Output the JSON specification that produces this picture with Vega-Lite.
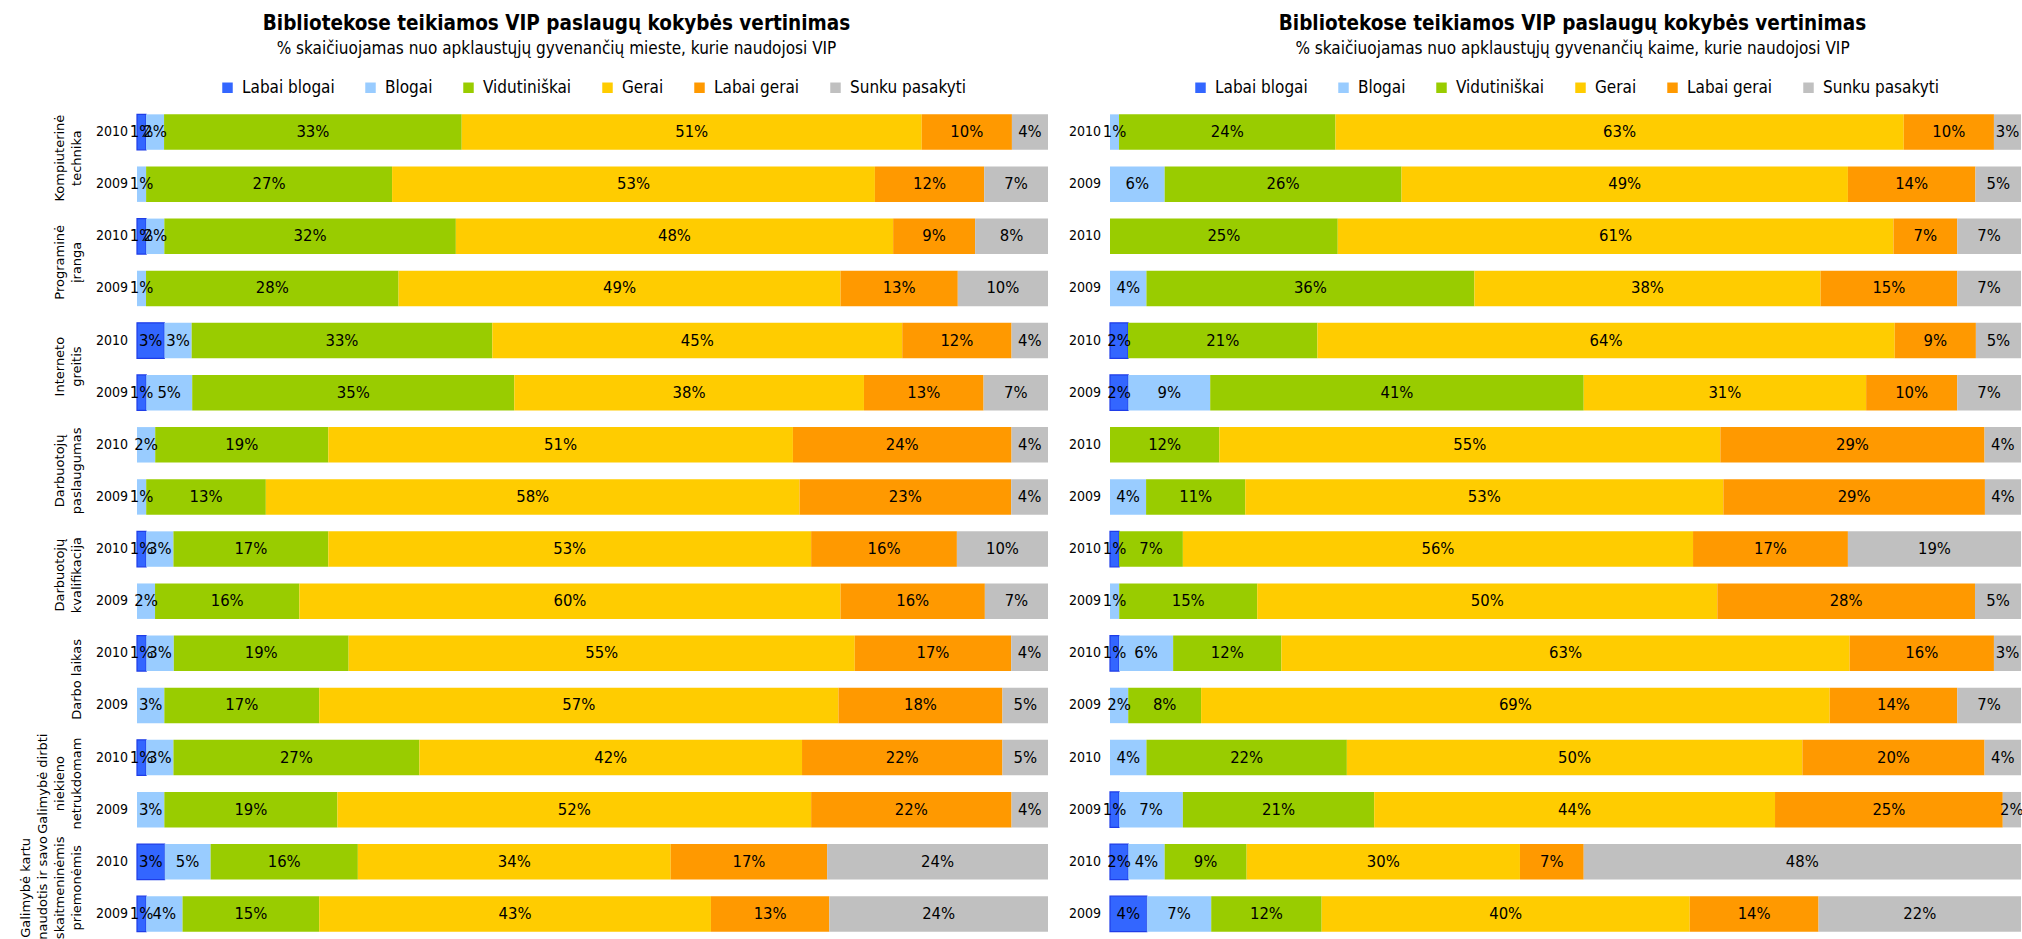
{
  "$schema": "https://vega.github.io/schema/vega-lite/v6.json",
  "padding": {"left": 19, "top": 13, "right": 0, "bottom": 0},
  "background": "white",
  "datasets": {
    "cats": [
      {"key": "Labai blogai", "k": 1},
      {"key": "Blogai", "k": 2},
      {"key": "Vidutiniškai", "k": 3},
      {"key": "Gerai", "k": 4},
      {"key": "Labai gerai", "k": 5},
      {"key": "Sunku pasakyti", "k": 6}
    ],
    "m": [
      {"c": "Kompiuterinė\ntechnika", "y": "2010", "Labai blogai": 0.01, "Blogai": 0.02, "Vidutiniškai": 0.33, "Gerai": 0.51, "Labai gerai": 0.10, "Sunku pasakyti": 0.04},
      {"c": "Kompiuterinė\ntechnika", "y": "2009", "Labai blogai": 0, "Blogai": 0.01, "Vidutiniškai": 0.27, "Gerai": 0.53, "Labai gerai": 0.12, "Sunku pasakyti": 0.07},
      {"c": "Programinė\nįranga", "y": "2010", "Labai blogai": 0.01, "Blogai": 0.02, "Vidutiniškai": 0.32, "Gerai": 0.48, "Labai gerai": 0.09, "Sunku pasakyti": 0.08},
      {"c": "Programinė\nįranga", "y": "2009", "Labai blogai": 0, "Blogai": 0.01, "Vidutiniškai": 0.28, "Gerai": 0.49, "Labai gerai": 0.13, "Sunku pasakyti": 0.10},
      {"c": "Interneto\ngreitis", "y": "2010", "Labai blogai": 0.03, "Blogai": 0.03, "Vidutiniškai": 0.33, "Gerai": 0.45, "Labai gerai": 0.12, "Sunku pasakyti": 0.04},
      {"c": "Interneto\ngreitis", "y": "2009", "Labai blogai": 0.01, "Blogai": 0.05, "Vidutiniškai": 0.35, "Gerai": 0.38, "Labai gerai": 0.13, "Sunku pasakyti": 0.07},
      {"c": "Darbuotojų\npaslaugumas", "y": "2010", "Labai blogai": 0, "Blogai": 0.02, "Vidutiniškai": 0.19, "Gerai": 0.51, "Labai gerai": 0.24, "Sunku pasakyti": 0.04},
      {"c": "Darbuotojų\npaslaugumas", "y": "2009", "Labai blogai": 0, "Blogai": 0.01, "Vidutiniškai": 0.13, "Gerai": 0.58, "Labai gerai": 0.23, "Sunku pasakyti": 0.04},
      {"c": "Darbuotojų\nkvalifikacija", "y": "2010", "Labai blogai": 0.01, "Blogai": 0.03, "Vidutiniškai": 0.17, "Gerai": 0.53, "Labai gerai": 0.16, "Sunku pasakyti": 0.10},
      {"c": "Darbuotojų\nkvalifikacija", "y": "2009", "Labai blogai": 0, "Blogai": 0.02, "Vidutiniškai": 0.16, "Gerai": 0.60, "Labai gerai": 0.16, "Sunku pasakyti": 0.07},
      {"c": "Darbo laikas", "y": "2010", "Labai blogai": 0.01, "Blogai": 0.03, "Vidutiniškai": 0.19, "Gerai": 0.55, "Labai gerai": 0.17, "Sunku pasakyti": 0.04},
      {"c": "Darbo laikas", "y": "2009", "Labai blogai": 0, "Blogai": 0.03, "Vidutiniškai": 0.17, "Gerai": 0.57, "Labai gerai": 0.18, "Sunku pasakyti": 0.05},
      {"c": "Galimybė dirbti\nniekieno\nnetrukdomam", "y": "2010", "Labai blogai": 0.01, "Blogai": 0.03, "Vidutiniškai": 0.27, "Gerai": 0.42, "Labai gerai": 0.22, "Sunku pasakyti": 0.05},
      {"c": "Galimybė dirbti\nniekieno\nnetrukdomam", "y": "2009", "Labai blogai": 0, "Blogai": 0.03, "Vidutiniškai": 0.19, "Gerai": 0.52, "Labai gerai": 0.22, "Sunku pasakyti": 0.04},
      {"c": "Galimybė kartu\nnaudotis ir savo\nskaitmeninėmis\npriemonėmis", "y": "2010", "Labai blogai": 0.03, "Blogai": 0.05, "Vidutiniškai": 0.16, "Gerai": 0.34, "Labai gerai": 0.17, "Sunku pasakyti": 0.24},
      {"c": "Galimybė kartu\nnaudotis ir savo\nskaitmeninėmis\npriemonėmis", "y": "2009", "Labai blogai": 0.01, "Blogai": 0.04, "Vidutiniškai": 0.15, "Gerai": 0.43, "Labai gerai": 0.13, "Sunku pasakyti": 0.24}
    ],
    "k": [
      {"c": "Kompiuterinė\ntechnika", "y": "2010", "Labai blogai": 0, "Blogai": 0.01, "Vidutiniškai": 0.24, "Gerai": 0.63, "Labai gerai": 0.10, "Sunku pasakyti": 0.03},
      {"c": "Kompiuterinė\ntechnika", "y": "2009", "Labai blogai": 0, "Blogai": 0.06, "Vidutiniškai": 0.26, "Gerai": 0.49, "Labai gerai": 0.14, "Sunku pasakyti": 0.05},
      {"c": "Programinė\nįranga", "y": "2010", "Labai blogai": 0, "Blogai": 0, "Vidutiniškai": 0.25, "Gerai": 0.61, "Labai gerai": 0.07, "Sunku pasakyti": 0.07},
      {"c": "Programinė\nįranga", "y": "2009", "Labai blogai": 0, "Blogai": 0.04, "Vidutiniškai": 0.36, "Gerai": 0.38, "Labai gerai": 0.15, "Sunku pasakyti": 0.07},
      {"c": "Interneto\ngreitis", "y": "2010", "Labai blogai": 0.02, "Blogai": 0, "Vidutiniškai": 0.21, "Gerai": 0.64, "Labai gerai": 0.09, "Sunku pasakyti": 0.05},
      {"c": "Interneto\ngreitis", "y": "2009", "Labai blogai": 0.02, "Blogai": 0.09, "Vidutiniškai": 0.41, "Gerai": 0.31, "Labai gerai": 0.10, "Sunku pasakyti": 0.07},
      {"c": "Darbuotojų\npaslaugumas", "y": "2010", "Labai blogai": 0, "Blogai": 0, "Vidutiniškai": 0.12, "Gerai": 0.55, "Labai gerai": 0.29, "Sunku pasakyti": 0.04},
      {"c": "Darbuotojų\npaslaugumas", "y": "2009", "Labai blogai": 0, "Blogai": 0.04, "Vidutiniškai": 0.11, "Gerai": 0.53, "Labai gerai": 0.29, "Sunku pasakyti": 0.04},
      {"c": "Darbuotojų\nkvalifikacija", "y": "2010", "Labai blogai": 0.01, "Blogai": 0, "Vidutiniškai": 0.07, "Gerai": 0.56, "Labai gerai": 0.17, "Sunku pasakyti": 0.19},
      {"c": "Darbuotojų\nkvalifikacija", "y": "2009", "Labai blogai": 0, "Blogai": 0.01, "Vidutiniškai": 0.15, "Gerai": 0.50, "Labai gerai": 0.28, "Sunku pasakyti": 0.05},
      {"c": "Darbo laikas", "y": "2010", "Labai blogai": 0.01, "Blogai": 0.06, "Vidutiniškai": 0.12, "Gerai": 0.63, "Labai gerai": 0.16, "Sunku pasakyti": 0.03},
      {"c": "Darbo laikas", "y": "2009", "Labai blogai": 0, "Blogai": 0.02, "Vidutiniškai": 0.08, "Gerai": 0.69, "Labai gerai": 0.14, "Sunku pasakyti": 0.07},
      {"c": "Galimybė dirbti\nniekieno\nnetrukdomam", "y": "2010", "Labai blogai": 0, "Blogai": 0.04, "Vidutiniškai": 0.22, "Gerai": 0.50, "Labai gerai": 0.20, "Sunku pasakyti": 0.04},
      {"c": "Galimybė dirbti\nniekieno\nnetrukdomam", "y": "2009", "Labai blogai": 0.01, "Blogai": 0.07, "Vidutiniškai": 0.21, "Gerai": 0.44, "Labai gerai": 0.25, "Sunku pasakyti": 0.02},
      {"c": "Galimybė kartu\nnaudotis ir savo\nskaitmeninėmis\npriemonėmis", "y": "2010", "Labai blogai": 0.02, "Blogai": 0.04, "Vidutiniškai": 0.09, "Gerai": 0.30, "Labai gerai": 0.07, "Sunku pasakyti": 0.48},
      {"c": "Galimybė kartu\nnaudotis ir savo\nskaitmeninėmis\npriemonėmis", "y": "2009", "Labai blogai": 0.04, "Blogai": 0.07, "Vidutiniškai": 0.12, "Gerai": 0.40, "Labai gerai": 0.14, "Sunku pasakyti": 0.22}
    ]
  },
  "hconcat": [
    {
      "data": {"name": "m"},
      "width": 911,
      "height": 834,
      "title": {
        "text": "Bibliotekose teikiamos VIP paslaugų kokybės vertinimas",
        "subtitle": "% skaičiuojamas nuo apklaustųjų gyvenančių mieste, kurie naudojosi VIP",
        "dx": -36
      },
      "encoding": {
        "yOffset": {"field": "y", "type": "nominal", "sort": "descending", "scale": {"paddingInner": 0.32, "paddingOuter": 0.16}}
      },
      "layer": [
        {
          "transform": [
            {"fold": ["Labai blogai", "Blogai", "Vidutiniškai", "Gerai", "Labai gerai", "Sunku pasakyti"]},
            {"filter": "datum.value > 0"},
            {"lookup": "key", "from": {"data": {"name": "cats"}, "key": "key", "fields": ["k"]}}
          ],
          "mark": {"type": "bar", "stroke": "#1f3de8"},
          "encoding": {
            "y": {"field": "c", "type": "nominal", "sort": null, "scale": {"paddingInner": 0, "paddingOuter": 0},
              "axis": {"orient": "left", "title": null, "domain": false, "ticks": false, "labelAngle": -90, "labelAlign": "center", "labelBaseline": "middle", "labelPadding": 61, "labelFont": "DejaVu Sans", "labelFontSize": 13, "labelColor": "black", "labelLimit": 0,
                "labelExpr": "length(split(datum.value, '\\n')) > 0 ? split(datum.value, '\\n')[length(split(datum.value, '\\n')) - 1] : ''"}},
            "x": {"field": "value", "type": "quantitative", "stack": "normalize", "axis": null},
            "color": {"field": "key", "type": "nominal",
              "scale": {"domain": ["Labai blogai", "Blogai", "Vidutiniškai", "Gerai", "Labai gerai", "Sunku pasakyti"], "range": ["#3366FF", "#99CCFF", "#99CC00", "#FFCC00", "#FF9900", "#C0C0C0"]},
              "legend": {"orient": "top", "direction": "horizontal", "title": null}},
            "order": {"field": "k", "type": "quantitative"},
            "strokeWidth": {"condition": {"test": "datum.key === 'Labai blogai'", "value": 1.2}, "value": 0}
          }
        },
        {
          "transform": [
            {"fold": ["Labai blogai", "Blogai", "Vidutiniškai", "Gerai", "Labai gerai", "Sunku pasakyti"]},
            {"filter": "datum.value > 0"},
            {"lookup": "key", "from": {"data": {"name": "cats"}, "key": "key", "fields": ["k"]}}
          ],
          "mark": {"type": "text", "font": "DejaVu Sans Condensed, DejaVu Sans", "fontSize": 16.5, "color": "black"},
          "encoding": {
            "y": {"field": "c", "type": "nominal", "sort": null,
              "axis": {"orient": "left", "title": null, "domain": false, "ticks": false, "labelAngle": -90, "labelAlign": "center", "labelBaseline": "middle", "labelPadding": 78, "labelFont": "DejaVu Sans", "labelFontSize": 13, "labelColor": "black", "labelLimit": 0,
                "labelExpr": "length(split(datum.value, '\\n')) > 1 ? split(datum.value, '\\n')[length(split(datum.value, '\\n')) - 2] : ''"}},
            "x": {"field": "value", "type": "quantitative", "stack": "normalize", "bandPosition": 0.5},
            "detail": {"field": "key"},
            "order": {"field": "k", "type": "quantitative"},
            "text": {"field": "value", "type": "quantitative", "format": ".0%"}
          }
        },
        {
          "transform": [{"filter": "datum.y === '2010'"}],
          "mark": {"type": "text", "align": "right", "dx": -9, "font": "DejaVu Sans Condensed, DejaVu Sans", "fontSize": 14, "color": "black"},
          "encoding": {
            "y": {"field": "c", "type": "nominal", "sort": null,
              "axis": {"orient": "left", "title": null, "domain": false, "ticks": false, "labelAngle": -90, "labelAlign": "center", "labelBaseline": "middle", "labelPadding": 95, "labelFont": "DejaVu Sans", "labelFontSize": 13, "labelColor": "black", "labelLimit": 0,
                "labelExpr": "length(split(datum.value, '\\n')) > 2 ? split(datum.value, '\\n')[length(split(datum.value, '\\n')) - 3] : ''"}},
            "x": {"datum": 0, "type": "quantitative"},
            "text": {"field": "y"}
          }
        },
        {
          "transform": [{"filter": "datum.y === '2009'"}],
          "mark": {"type": "text", "align": "right", "dx": -9, "font": "DejaVu Sans Condensed, DejaVu Sans", "fontSize": 14, "color": "black"},
          "encoding": {
            "y": {"field": "c", "type": "nominal", "sort": null,
              "axis": {"orient": "left", "title": null, "domain": false, "ticks": false, "labelAngle": -90, "labelAlign": "center", "labelBaseline": "middle", "labelPadding": 112, "labelFont": "DejaVu Sans", "labelFontSize": 13, "labelColor": "black", "labelLimit": 0,
                "labelExpr": "length(split(datum.value, '\\n')) > 3 ? split(datum.value, '\\n')[length(split(datum.value, '\\n')) - 4] : ''"}},
            "x": {"datum": 0, "type": "quantitative"},
            "text": {"field": "y"}
          }
        }
      ],
      "resolve": {"axis": {"y": "independent"}}
    },
    {
      "data": {"name": "k"},
      "width": 911,
      "height": 834,
      "title": {
        "text": "Bibliotekose teikiamos VIP paslaugų kokybės vertinimas",
        "subtitle": "% skaičiuojamas nuo apklaustųjų gyvenančių kaime, kurie naudojosi VIP",
        "dx": 7
      },
      "encoding": {
        "y": {"field": "c", "type": "nominal", "sort": null, "scale": {"paddingInner": 0, "paddingOuter": 0}, "axis": null},
        "yOffset": {"field": "y", "type": "nominal", "sort": "descending", "scale": {"paddingInner": 0.32, "paddingOuter": 0.16}}
      },
      "layer": [
        {
          "transform": [
            {"fold": ["Labai blogai", "Blogai", "Vidutiniškai", "Gerai", "Labai gerai", "Sunku pasakyti"]},
            {"filter": "datum.value > 0"},
            {"lookup": "key", "from": {"data": {"name": "cats"}, "key": "key", "fields": ["k"]}}
          ],
          "mark": {"type": "bar", "stroke": "#1f3de8"},
          "encoding": {
            "x": {"field": "value", "type": "quantitative", "stack": "normalize", "axis": null},
            "color": {"field": "key", "type": "nominal",
              "scale": {"domain": ["Labai blogai", "Blogai", "Vidutiniškai", "Gerai", "Labai gerai", "Sunku pasakyti"], "range": ["#3366FF", "#99CCFF", "#99CC00", "#FFCC00", "#FF9900", "#C0C0C0"]},
              "legend": {"orient": "top", "direction": "horizontal", "title": null}},
            "order": {"field": "k", "type": "quantitative"},
            "strokeWidth": {"condition": {"test": "datum.key === 'Labai blogai'", "value": 1.2}, "value": 0}
          }
        },
        {
          "transform": [
            {"fold": ["Labai blogai", "Blogai", "Vidutiniškai", "Gerai", "Labai gerai", "Sunku pasakyti"]},
            {"filter": "datum.value > 0"},
            {"lookup": "key", "from": {"data": {"name": "cats"}, "key": "key", "fields": ["k"]}}
          ],
          "mark": {"type": "text", "font": "DejaVu Sans Condensed, DejaVu Sans", "fontSize": 16.5, "color": "black"},
          "encoding": {
            "x": {"field": "value", "type": "quantitative", "stack": "normalize", "bandPosition": 0.5},
            "detail": {"field": "key"},
            "order": {"field": "k", "type": "quantitative"},
            "text": {"field": "value", "type": "quantitative", "format": ".0%"}
          }
        },
        {
          "mark": {"type": "text", "align": "right", "dx": -9, "font": "DejaVu Sans Condensed, DejaVu Sans", "fontSize": 14, "color": "black"},
          "encoding": {
            "x": {"datum": 0, "type": "quantitative"},
            "text": {"field": "y"}
          }
        }
      ]
    }
  ],
  "spacing": 20,
  "resolve": {"scale": {"color": "independent"}, "legend": {"color": "independent"}},
  "config": {
    "view": {"stroke": null},
    "font": "DejaVu Sans Condensed, DejaVu Sans",
    "title": {"font": "DejaVu Sans Condensed, DejaVu Sans", "fontSize": 20.5, "fontWeight": "bold", "color": "black", "subtitleFont": "DejaVu Sans Condensed, DejaVu Sans", "subtitleFontSize": 17, "subtitleColor": "black", "subtitlePadding": 7, "anchor": "middle", "offset": 22},
    "legend": {"labelFont": "DejaVu Sans Condensed, DejaVu Sans", "labelFontSize": 17, "labelColor": "black", "symbolType": "square", "symbolSize": 110, "symbolStrokeWidth": 0, "labelOffset": 6, "columnPadding": 27, "offset": 10, "layout": {"top": {"anchor": "middle"}}}
  }
}
